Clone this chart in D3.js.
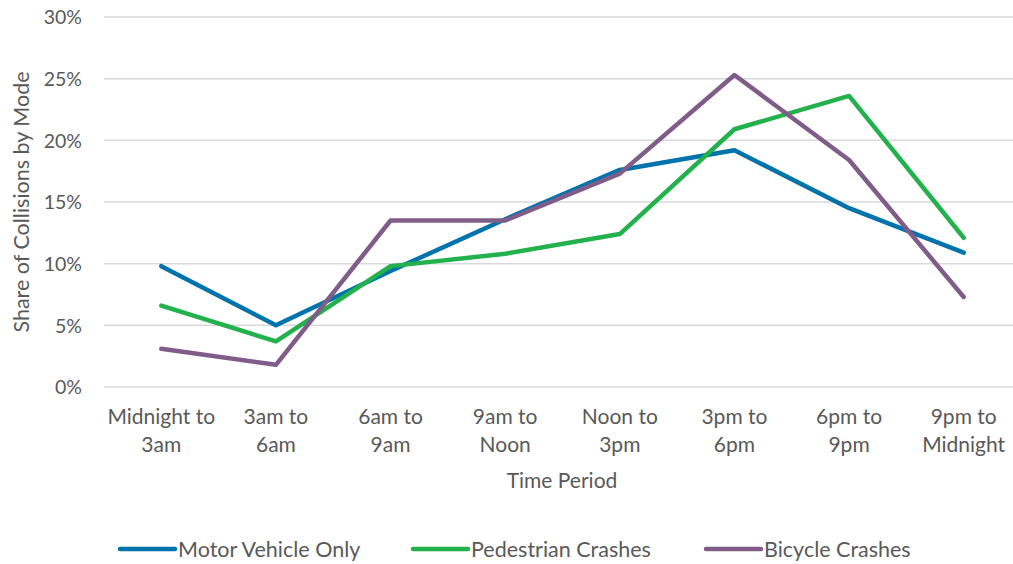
<!DOCTYPE html>
<html>
<head>
<meta charset="utf-8">
<script src="https://cdn.jsdelivr.net/npm/d3@7"></script>
<style>
  html, body { margin: 0; padding: 0; background: #fff; }
  svg { display: block; }
  text { font-family: "Gill Sans", "Lato", sans-serif; fill: #595959; }
</style>
</head>
<body>
<svg id="chart" width="1013" height="564"></svg>
<script>
// Time periods (two-line category labels)
const periods = [
  ["Midnight to", "3am"],
  ["3am to", "6am"],
  ["6am to", "9am"],
  ["9am to", "Noon"],
  ["Noon to", "3pm"],
  ["3pm to", "6pm"],
  ["6pm to", "9pm"],
  ["9pm to", "Midnight"]
];

// Share of collisions (%) per time period
const motorVehicle = [9.8, 5.0, 9.4, 13.6, 17.6, 19.2, 14.5, 10.9];
const pedestrian   = [6.6, 3.7, 9.8, 10.8, 12.4, 20.9, 23.6, 12.1];
const bicycle      = [3.1, 1.8, 13.5, 13.5, 17.3, 25.3, 18.4, 7.3];

const seriesNames  = ["Motor Vehicle Only", "Pedestrian Crashes", "Bicycle Crashes"];
const seriesColors = ["#0072AC", "#23B14D", "#805D88"];
const yTicks = [0, 5, 10, 15, 20, 25, 30];

const series = [motorVehicle, pedestrian, bicycle].map((values, i) => ({
  name: seriesNames[i], color: seriesColors[i], values
}));

const svg = d3.select("#chart");
const plot = { left: 104, right: 1021, top: 17, bottom: 387 };

const x = d3.scaleBand()
  .domain(d3.range(periods.length))
  .range([plot.left, plot.right]);

const y = d3.scaleLinear()
  .domain([0, 30])
  .range([plot.bottom, plot.top]);

// Horizontal gridlines
svg.append("g")
  .selectAll("line")
  .data(yTicks)
  .join("line")
  .attr("x1", plot.left)
  .attr("x2", plot.right)
  .attr("y1", d => y(d))
  .attr("y2", d => y(d))
  .attr("stroke", "#d9d9d9")
  .attr("stroke-width", 1.5);

// Y axis tick labels
const yAxis = svg.append("g")
  .attr("transform", `translate(${plot.left - 22},0)`)
  .call(d3.axisLeft(y).tickValues(yTicks).tickFormat(d => d + "%").tickSize(0).tickPadding(0));
yAxis.select(".domain").remove();
yAxis.selectAll("text")
  .attr("font-size", 19.5)
  .attr("dy", "0.35em")
  .style("font-family", '"Gill Sans", "Lato", sans-serif')
  .style("fill", "#595959");

// X axis category labels
const xLabels = svg.append("g")
  .selectAll("text")
  .data(periods)
  .join("text")
  .attr("x", (d, i) => x(i) + x.bandwidth() / 2)
  .attr("y", 424)
  .attr("text-anchor", "middle")
  .attr("font-size", 21);
xLabels.selectAll("tspan")
  .data(d => d)
  .join("tspan")
  .attr("x", function () { return this.parentNode.getAttribute("x"); })
  .attr("dy", (d, i) => i === 0 ? 0 : 28)
  .text(d => d);

// Axis titles
svg.append("text")
  .attr("x", 562)
  .attr("y", 488)
  .attr("text-anchor", "middle")
  .attr("font-size", 21)
  .text("Time Period");

svg.append("text")
  .attr("transform", "translate(29,202) rotate(-90)")
  .attr("text-anchor", "middle")
  .attr("font-size", 21.5)
  .text("Share of Collisions by Mode");

// Series lines
const line = d3.line()
  .x((d, i) => x(i) + x.bandwidth() / 2)
  .y(d => y(d));

svg.append("g")
  .selectAll("path")
  .data(series)
  .join("path")
  .attr("d", d => line(d.values))
  .attr("fill", "none")
  .attr("stroke", d => d.color)
  .attr("stroke-width", 4.5)
  .attr("stroke-linejoin", "round")
  .attr("stroke-linecap", "round");

// Legend
const legendX = [120, 413, 706];
const legend = svg.append("g")
  .selectAll("g")
  .data(series)
  .join("g")
  .attr("transform", (d, i) => `translate(${legendX[i]},549)`);
legend.append("line")
  .attr("x1", 0).attr("x2", 55)
  .attr("stroke", d => d.color)
  .attr("stroke-width", 4.5)
  .attr("stroke-linecap", "round");
legend.append("text")
  .attr("x", 58)
  .attr("dy", "0.35em")
  .attr("font-size", 21.5)
  .text(d => d.name);
</script>
</body>
</html>
